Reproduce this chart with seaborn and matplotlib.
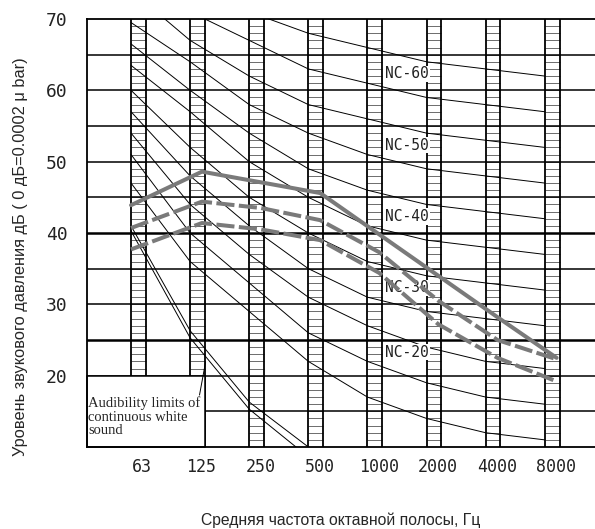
import numpy as np
import pandas as pd
import matplotlib
matplotlib.use('Agg')
import matplotlib.pyplot as plt
import seaborn as sns
from matplotlib.patches import Rectangle

# octave band centre frequencies
bands = ['63', '125', '250', '500', '1000', '2000', '4000', '8000']

# NC curves, dB at each octave band
nc15 = [47, 36, 29, 22, 17, 14, 12, 11]
nc20 = [51, 40, 33, 26, 22, 19, 17, 16]
nc25 = [54, 44, 37, 31, 27, 24, 22, 21]
nc30 = [57, 48, 41, 35, 31, 29, 28, 27]
nc35 = [60, 52, 45, 40, 36, 34, 33, 32]
nc40 = [63.5, 57, 50, 45, 41, 39, 38, 37]
nc45 = [66.5, 60, 54, 49, 46, 44, 43, 42]
nc50 = [69.5, 64, 58, 54, 51, 49, 48, 47]
nc55 = [74, 67, 62, 58, 56, 54, 53, 52]
nc60 = [77, 71, 67, 63, 61, 59, 58, 57]
nc65 = [80, 75, 71, 68, 66, 64, 63, 62]
nc_names = ['NC-15', 'NC-20', 'NC-25', 'NC-30', 'NC-35', 'NC-40',
            'NC-45', 'NC-50', 'NC-55', 'NC-60', 'NC-65']
nc_labelled = ['NC-60', 'NC-50', 'NC-40', 'NC-30', 'NC-20']

# measured spectra (grey lines)
prof_pos = [0.0, 1.2, 2.2, 3.2, 4.2, 5.2, 6.2, 7.2]
spec_solid = [43.9, 48.6, 47.1, 45.6, 39.8, 34.0, 28.2, 22.5]
spec_dash_hi = [40.7, 44.4, 43.5, 41.8, 37.3, 30.5, 25.0, 22.3]
spec_dash_lo = [37.7, 41.4, 40.5, 39.0, 34.4, 27.2, 22.5, 19.2]

# audibility limits of continuous white sound (63..500 Hz)
aud_a = [40.3, 25.3, 15.3, 8.6]
aud_b = [41.0, 26.3, 16.3, 10.0]

yticks = [20, 30, 40, 50, 60, 70]

sns.set_theme(style='white')
plt.rcParams['font.family'] = ['DejaVu Sans Mono', 'DejaVu Sans']

fig = plt.figure(figsize=(5.95, 5.29), dpi=100)
ax = fig.add_axes([87/595, 1 - 447/529, 1 - 87/595, (447 - 19)/529])
ax.set_xlim(-0.745, 7.85)
ax.set_ylim(10, 70)

pos = np.arange(len(bands))
bw = 0.25

# ladder-like octave band strips
for i in pos:
    ax.hlines(np.arange(11, 70), i, i + bw, color='#555555', lw=0.6, zorder=1)
    ax.axvline(i, color='black', lw=1.3, zorder=2)
    ax.axvline(i + bw, color='black', lw=1.3, zorder=2)

# horizontal grid
for y in range(15, 70, 5):
    ax.axhline(y, color='black', lw=1.8 if y in (25, 40) else 1.1, zorder=2)

# NC curves
nc_vals = [nc15, nc20, nc25, nc30, nc35, nc40, nc45, nc50, nc55, nc60, nc65]
nc_df = pd.DataFrame({
    'pos': np.tile(pos, len(nc_names)),
    'level': np.concatenate(nc_vals),
    'curve': np.repeat(nc_names, len(bands)),
})
sns.lineplot(data=nc_df, x='pos', y='level', units='curve', estimator=None,
             color='black', lw=0.7, ax=ax, zorder=3)

for name, vals in zip(nc_names, nc_vals):
    if name in nc_labelled:
        ax.text(4.3, vals[4] + 1.3, name, ha='left', va='center', fontsize=10.5,
                family='DejaVu Sans Mono', color='#222222', zorder=4,
                bbox=dict(facecolor='white', edgecolor='none', pad=0.5))

# audibility limit curves
aud_df = pd.DataFrame({
    'pos': np.tile(pos[:4], 2),
    'level': aud_a + aud_b,
    'curve': ['a'] * 4 + ['b'] * 4,
})
sns.lineplot(data=aud_df, x='pos', y='level', units='curve', estimator=None,
             color='black', lw=0.7, ax=ax, zorder=3)

# measured spectra
spec_df = pd.DataFrame({
    'pos': prof_pos * 3,
    'level': spec_solid + spec_dash_hi + spec_dash_lo,
    'spec': ['solid'] * 8 + ['hi'] * 8 + ['lo'] * 8,
})
sns.lineplot(data=spec_df, x='pos', y='level', style='spec', units='spec',
             estimator=None, color='#7a7a7a', lw=2.9,
             dashes={'solid': '', 'hi': (4.5, 1.1), 'lo': (4.5, 1.1)},
             legend=False, ax=ax, zorder=5)

# note box in lower-left corner
ax.add_patch(Rectangle((-0.745, 10), 1.25 + 0.745, 10, facecolor='white',
                       edgecolor='black', lw=1.1, zorder=6, clip_on=False))
ax.text(-0.72, 17.1, 'Audibility limits of\ncontinuous white\nsound',
        ha='left', va='top', family='Liberation Serif', fontsize=10.5,
        linespacing=1.05, zorder=7)
ax.annotate('', xy=(1.27, 22.3), xytext=(1.15, 16.9),
            arrowprops=dict(arrowstyle='-', lw=0.7, color='black'), zorder=7)

ax.set_xticks(pos + 0.19)
ax.set_xticklabels(bands)
ax.set_yticks(yticks)
ax.set_yticklabels([str(v) for v in yticks])
ax.tick_params(axis='x', length=0, pad=8, labelsize=12, colors='#222222')
ax.tick_params(axis='y', length=0, pad=14, labelsize=13, colors='#222222')
ax.set_xlabel('')
ax.set_ylabel('')

for side in ['top', 'left', 'bottom']:
    ax.spines[side].set_color('black')
    ax.spines[side].set_linewidth(1.3)
    ax.spines[side].set_zorder(8)
ax.spines['right'].set_visible(False)

fig.text(21/595, 1 - 257/529, 'Уровень звукового давления дБ ( 0 дБ=0.0002 μ bar)',
         rotation=90, ha='center', va='center', fontsize=11.8,
         family=['Liberation Sans Narrow', 'Liberation Sans'])
fig.text(341/595, 1 - 520/529, 'Средняя частота октавной полосы, Гц',
         ha='center', va='center', fontsize=11.3,
         family=['Liberation Sans Narrow', 'Liberation Sans'])

fig.savefig('out.png', dpi=100)
